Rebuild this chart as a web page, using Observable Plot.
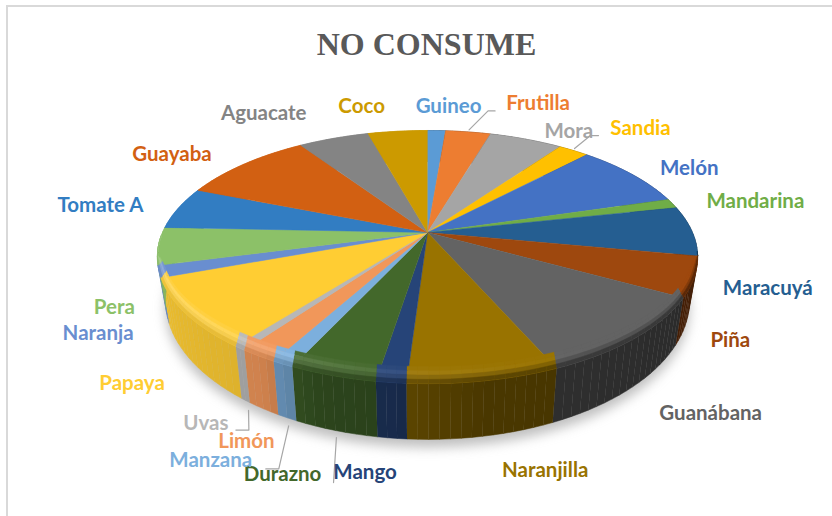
<!DOCTYPE html>
<html><head><meta charset="utf-8">
<style>html,body{margin:0;padding:0;background:#fff}svg{display:block}</style>
<script src="https://cdn.jsdelivr.net/npm/d3@7"></script>
<script src="https://cdn.jsdelivr.net/npm/@observablehq/plot@0.6"></script>
</head><body><div id="chart"></div>
<script>
const titleText = "NO CONSUME";
const categories = ["Guineo","Frutilla","Mora","Sandia","Melón","Mandarina","Maracuyá","Piña","Guanábana","Naranjilla","Mango","Durazno","Manzana","Limón","Uvas","Papaya","Naranja","Pera","Tomate A","Guayaba","Aguacate","Coco"];
const shares = [1.3,3.25,5.3,2.2,8.4,1.2,6.4,5.1,10.4,7.6,1.5,4.4,1.1,1.9,0.6,8.9,1.5,4.8,5.4,9.6,5.1,4.3];
const faceColors = ["#5b9bd5","#ed7d31","#a5a5a5","#ffc000","#4472c4","#70ad47","#255e91","#9e480e","#636363","#997300","#264478","#43682b","#7cafdd","#f1975a","#b7b7b7","#ffcd33","#698ed0","#8cc168","#327dc2","#d26012","#848484","#cc9a00"];
// label nudge from the slice's rim midpoint
const labelNudgeX = [12,70,43,67,57,83,76,36,75,61,-26,-50,-72,-12,-34,-54,-61,-44,-78,-72,-70,-36];
const labelNudgeY = [-24,-28,-8,-22,-6,-2,58,64,76,90,90,99,97,86,75,70,62,61,-3,-10,-25,-25];
// leader lines: slice, which rim, start nudge, then bends relative to the label
const leaders = [
  {name:"Frutilla",rim:"top",start:[1,-2],bends:[[-50,7],[-43,7]]},
  {name:"Sandia",rim:"top",start:[1,-2],bends:[[-50,7],[-42,7]]},
  {name:"Uvas",rim:"bottom",start:[3,10],bends:[[43,7],[30,7]]},
  {name:"Manzana",rim:"bottom",start:[1.5,8],bends:[[68,8],[55,8]]},
  {name:"Durazno",rim:"bottom",start:[1,7],bends:[[51,8]]}
];

// perspective view of the disc
const K = 0.194;
const topView = {cx:427, cy:232, A:265, B:121.8};
const botView = {cx:427, cy:273, A:257, B:133.7};
const rad = d => d*Math.PI/180;
function project(view, deg, r=1){
  const u = r*Math.sin(rad(deg)), v = -r*Math.cos(rad(deg)), w = 1-K*v;
  return [view.cx+view.A*u/w, view.cy+view.B*v/w];
}
const total = d3.sum(shares);
let acc = 0;
const slices = categories.map((name,i)=>{
  const a0 = acc/total*360; acc += shares[i];
  return {name, i, a0, a1: acc/total*360, mid:(a0+acc/total*360)/2, color:faceColors[i]};
});
const wallFactor = d3.scaleLinear([100,170,186,200,212,250,275],[.42,.48,.62,.66,.86,.92,.95]).clamp(true);
const shineAmount = d3.scaleLinear([150,190,220,250],[0,.10,.22,.30]).clamp(true);
const mix = (c,other,t)=>d3.interpolateRgb(c,other)(t);
const wallColor = (c,deg)=>mix("#000",c,wallFactor(deg));

const wallRows=[], faceRows=[], bevelRows=[];
let pid=0;
function quad(rows,pts,fill){const id=pid++;pts.forEach(p=>rows.push({x:p[0],y:p[1],id,fill}));}
function steps(s,size){const n=Math.max(1,Math.ceil((s.a1-s.a0)/size));return d3.range(n+1).map(k=>s.a0+(s.a1-s.a0)*k/n);}
const ELL_CY=256, ELL_RY=127, BEVEL=17;
function inner(deg,t){ // t=1 on the rim, t=0 at the inner edge of the bevel
  const [x,y]=project(topView,deg);
  const f=Math.sqrt(Math.max(0,(y-ELL_CY)/ELL_RY));
  return [x+(topView.cx-x)*0.02*(1-t)*Math.min(1,f*3), y-BEVEL*f*(1-t)];
}
const bevelStops=[0,.25,.5,.75,1];
for(const s of slices){
  const th=steps(s,2);
  // wall
  for(let k=0;k<th.length-1;k++){
    const a=th[k],b=th[k+1],m=(a+b)/2;
    quad(wallRows,[project(topView,a),project(topView,b),project(botView,b),project(botView,a)],wallColor(s.color,m));
  }
  // face
  const fid=pid++;
  const facePts=[[topView.cx,topView.cy],...steps(s,1).map(d=>project(topView,d))];
  facePts.forEach(p=>faceRows.push({x:p[0],y:p[1],id:fid,fill:s.color}));
  // bevel
  for(let k=0;k<th.length-1;k++){
    const a=th[k],b=th[k+1],m=(a+b)/2;
    if(m<98||m>268) continue;
    const wc=wallColor(s.color,m), hi=mix(s.color,"#fff",shineAmount(m));
    const colorAt=t=>t<.45?mix(s.color,hi,t/.45):mix(hi,wc,(t-.45)/.55);
    for(let j=0;j<bevelStops.length-1;j++){
      const t0=bevelStops[j],t1=bevelStops[j+1];
      quad(bevelRows,[inner(a,t0),inner(b,t0),inner(b,t1),inner(a,t1)],colorAt((t0+t1)/2));
    }
  }
}
const shadowRows=d3.range(0,361,3).map(d=>{const p=project(botView,d);return {x:p[0],y:p[1]};});

const labels=slices.map(s=>{
  const p=project(topView,s.mid);
  return {name:s.name,color:s.color,x:p[0]+labelNudgeX[s.i],y:p[1]+labelNudgeY[s.i]};
});
const leaderRows=[];
leaders.forEach(l=>{
  const s=slices.find(d=>d.name===l.name), lab=labels.find(d=>d.name===l.name);
  const p=project(l.rim==="top"?topView:botView,s.mid);
  leaderRows.push({x:p[0]+l.start[0],y:p[1]+l.start[1],id:l.name});
  l.bends.forEach(b=>leaderRows.push({x:lab.x+b[0],y:lab.y+b[1],id:l.name}));
});

const solid=(rows)=>Plot.line(rows,{x:"x",y:"y",z:"id",fill:"fill",stroke:"fill",strokeWidth:0.5,curve:"linear"});
const chart=Plot.plot({
  width:832,height:516,margin:0,
  x:{domain:[0,832],axis:null},
  y:{domain:[516,0],axis:null},
  color:{type:"identity"},
  style:{background:"#fff"},
  marks:[
    Plot.ruleY([5.5],{x1:6,x2:832,stroke:"#d9d9d9",strokeWidth:2}),
    Plot.ruleX([6.5],{y1:5,y2:516,stroke:"#d9d9d9",strokeWidth:2}),
    Plot.line(shadowRows,{x:"x",y:"y",fill:"#8a8a8a",stroke:"none",fillOpacity:.55,dy:8,imageFilter:"blur(6px)"}),
    solid(wallRows),
    solid(faceRows),
    solid(bevelRows),
    Plot.line(leaderRows,{x:"x",y:"y",z:"id",stroke:"#a6a6a6",strokeWidth:1.2}),
    Plot.text(labels,{x:"x",y:"y",text:"name",fill:"color",fontFamily:"Lato",fontWeight:"bold",fontSize:20.5,textAnchor:"middle"}),
    Plot.text([titleText],{x:()=>426,y:()=>44,text:d=>d,fill:"#595959",fontFamily:"Liberation Serif",fontWeight:"bold",fontSize:32,textAnchor:"middle"})
  ]
});
document.getElementById("chart").appendChild(chart);
</script></body></html>
